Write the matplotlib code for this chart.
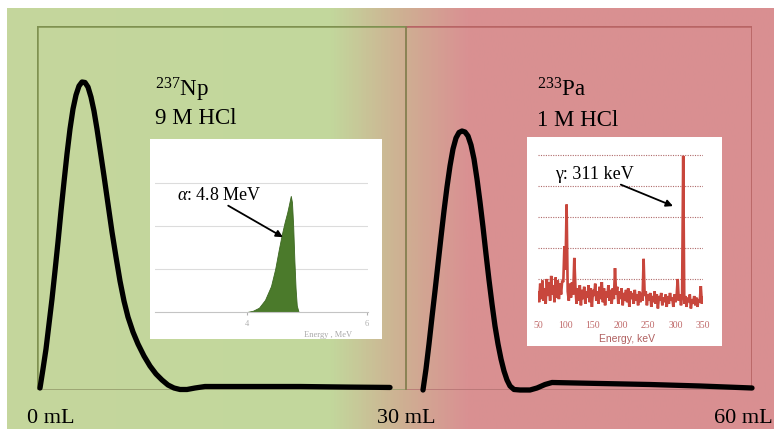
import numpy as np
import matplotlib.pyplot as plt
from matplotlib.colors import LinearSegmentedColormap

plt.rcParams['font.family'] = ['Liberation Serif', 'DejaVu Serif']
plt.rcParams['mathtext.fontset'] = 'custom'
plt.rcParams['mathtext.rm'] = 'Liberation Serif'
plt.rcParams['mathtext.it'] = 'Liberation Serif:italic'

# elution profile, volume in mL vs detector signal (relative)
np_ml = [0.244, 0.488, 0.732, 0.976, 1.220, 1.463, 1.707, 1.951, 2.195, 2.439, 2.683,
         2.927, 3.171, 3.415, 3.659, 3.902, 4.146, 4.390, 4.634, 4.878, 5.122, 5.447,
         5.772, 6.098, 6.423, 6.748, 7.073, 7.398, 7.805, 8.211, 8.699, 9.187, 9.675,
         10.163, 10.650, 11.138, 11.626, 12.195, 12.846, 13.659, 17.3, 21.4, 25.4, 28.7]
np_sig = [0.0055, 0.0577, 0.1126, 0.1813, 0.2500, 0.3269, 0.4066, 0.4918, 0.5714,
          0.6484, 0.7170, 0.7720, 0.8104, 0.8352, 0.8462, 0.8448, 0.8324, 0.8049,
          0.7665, 0.7170, 0.6621, 0.5879, 0.5110, 0.4341, 0.3654, 0.2995, 0.2445,
          0.2005, 0.1593, 0.1264, 0.0934, 0.0659, 0.0440, 0.0275, 0.0137, 0.0055,
          0.0014, 0.0014, 0.0055, 0.0096, 0.0096, 0.0096, 0.0080, 0.0070]
pa_ml = [31.382, 31.626, 31.870, 32.114, 32.358, 32.602, 32.846, 33.089, 33.333, 33.577,
         33.821, 34.065, 34.309, 34.553, 34.797, 35.041, 35.285, 35.528, 35.772, 36.016,
         36.260, 36.504, 36.748, 36.992, 37.236, 37.480, 37.724, 37.967, 38.211, 38.455,
         38.780, 39.268, 40.081, 40.650, 41.301, 41.870, 45.772, 49.837, 53.902, 58.13]
pa_sig = [0.0, 0.0577, 0.1264, 0.2005, 0.2720, 0.3462, 0.4203, 0.4918, 0.5577, 0.6154,
          0.6621, 0.6923, 0.7074, 0.7115, 0.7088, 0.6978, 0.6731, 0.6346, 0.5797, 0.5165,
          0.4478, 0.3736, 0.3022, 0.2363, 0.1758, 0.1264, 0.0852, 0.0522, 0.0275, 0.0110,
          0.0014, 0.0, 0.0, 0.0055, 0.0151, 0.0206, 0.0179, 0.0151, 0.0110, 0.0055]

# alpha spectrum of 237Np
alpha_mev = [4.0, 4.1, 4.2, 4.3, 4.4, 4.47, 4.53, 4.58, 4.63, 4.67, 4.70, 4.73, 4.75,
             4.77, 4.79, 4.81, 4.83, 4.86]
alpha_cts = [0.0, 0.03, 0.1, 0.28, 0.6, 1.0, 1.45, 1.8, 2.1, 2.31, 2.5, 2.7, 2.55,
             2.0, 1.2, 0.55, 0.15, 0.0]

# gamma spectrum of 233Pa, 50-350 keV every 2 keV
gamma_kev = list(range(50, 351, 2))
gamma_cts = [0.55, 0.25, 0.85, 0.35, 0.95, 0.3, 0.7, 0.2, 1.0, 0.45, 0.9, 0.3, 1.1, 0.5,
             0.8, 0.25, 1.05, 0.4, 0.95, 0.35, 0.85, 0.5,
             0.95, 0.9, 2.06, 1.3, 3.4, 0.6, 0.3, 0.85, 0.4, 0.9, 0.5, 1.68, 0.75, 0.2,
             0.7, 0.3, 0.8, 0.15, 0.65, 0.35, 0.75, 0.2, 0.6, 0.4, 0.8, 0.25, 0.7, 0.1,
             0.65, 0.45, 0.85, 0.3, 0.6, 0.2, 0.75, 0.35, 0.9, 0.25, 0.7, 0.15, 0.6, 0.4,
             0.8, 0.3, 0.65, 0.2, 0.7, 0.35,
             1.35, 0.5,
             0.75, 0.2, 0.6, 0.35, 0.7, 0.15, 0.55, 0.3, 0.65, 0.25, 0.7, 0.1, 0.6, 0.35,
             0.55, 0.2, 0.65, 0.3, 0.5, 0.15, 0.6, 0.25, 0.55, 0.3,
             1.65, 0.45,
             0.6, 0.15, 0.5, 0.3, 0.55, 0.1, 0.45, 0.25, 0.6, 0.2, 0.5, 0.05, 0.45, 0.3,
             0.55, 0.15, 0.4, 0.25, 0.5, 0.1, 0.45, 0.2, 0.55, 0.3, 0.4, 0.1, 0.5, 0.25, 0.45,
             1.0, 0.3, 0.5, 0.15, 0.5, 4.97, 0.2,
             0.45, 0.1, 0.4, 0.25, 0.5, 0.05, 0.35, 0.2, 0.45, 0.15, 0.4, 0.1, 0.35, 0.25,
             0.77, 0.2, 0.4]

vol_ticks = [0, 30, 60]
vol_labels = ['0 mL', '30 mL', '60 mL']

W, H = 774, 439
fig = plt.figure(figsize=(W / 100, H / 100), dpi=100)

def box(x0, y0, x1, y1):
    # pixel box (top-left origin) -> figure fraction
    return [x0 / W, 1 - y1 / H, (x1 - x0) / W, (y1 - y0) / H]

# background green -> red gradient
bg = fig.add_axes(box(7, 9, 774, 430))
cmap = LinearSegmentedColormap.from_list('gr', [(0, '#c5d69d'), (0.42, '#c2d89c'),
                                               (0.52, '#cfae92'), (0.60, '#d99192'),
                                               (1, '#d98f91')])
bg.imshow(np.linspace(0, 1, 500)[None, :], aspect='auto', cmap=cmap, extent=[0, 1, 0, 1])
bg.axis('off')

# main chromatogram
ax = fig.add_axes(box(37, 27, 752, 391))
ax.set_facecolor('none')
ax.set_xlim(0, 58.13)
ax.set_ylim(0, 1)
for s in ax.spines.values():
    s.set_visible(False)
ax.set_xticks([])
ax.set_yticks([])
green_edge = '#7f9150'
red_edge = '#b86565'
ax.plot([0, 0], [0, 1], color=green_edge, lw=1.8)
ax.plot([0, 30], [1, 1], color=green_edge, lw=1.8)
ax.plot([30, 58.13], [1, 1], color=red_edge, lw=1.8)
ax.plot([0, 30], [0, 0], color='#93996a', lw=1.1)
ax.plot([30, 58.13], [0, 0], color='#b47272', lw=1.1)
ax.plot([58.13, 58.13], [0, 1], color=red_edge, lw=2.0)
ax.plot([30, 30], [0, 1], color='#8a8254', lw=1.4)

ax.plot(np_ml, np_sig, color='black', lw=3.8, solid_capstyle='round',
        solid_joinstyle='round', clip_on=False)
ax.plot(pa_ml, pa_sig, color='black', lw=3.8, solid_capstyle='round',
        solid_joinstyle='round', clip_on=False)

ax.text(vol_ticks[0] - 0.8, -0.088, vol_labels[0], ha='left', va='baseline', fontsize=16)
ax.text(vol_ticks[1], -0.088, vol_labels[1], ha='center', va='baseline', fontsize=16)
ax.text(vol_ticks[2] - 0.2, -0.088, vol_labels[2], ha='right', va='baseline', fontsize=16)

ax.text(9.6, 0.808, r'$^{237}$Np', fontsize=16.5, va='baseline')
ax.text(9.6, 0.734, '9 M HCl', fontsize=16.5, va='baseline')
ax.text(40.65, 0.808, r'$^{233}$Pa', fontsize=16.5, va='baseline')
ax.text(40.65, 0.728, '1 M HCl', fontsize=16.5, va='baseline')

# white panels behind the insets
for b in [box(150, 140, 382, 340), box(527, 138, 722, 347)]:
    wb = fig.add_axes(b)
    wb.set_facecolor('white')
    wb.set_xticks([])
    wb.set_yticks([])
    for s in wb.spines.values():
        s.set_visible(False)

# alpha inset
a1 = fig.add_axes(box(155, 150, 368, 313))
a1.set_facecolor('none')
a1.set_xlim(2.467, 6.017)
a1.set_ylim(0, 3.79)
for y in [1, 2, 3]:
    a1.axhline(y, color='#dcdcdc', lw=0.8, zorder=0)
a1.fill_between(alpha_mev, alpha_cts, color='#4b7a2b', lw=0.6, edgecolor='#3d6822')
for k, s in a1.spines.items():
    s.set_visible(k == 'bottom')
a1.spines['bottom'].set_color('#c4c4c4')
a1.set_yticks([])
a1.set_xticks([4, 6])
a1.tick_params(axis='x', colors='#b0b0b0', labelsize=6, length=2, pad=3)
a1.text(0.81, -0.135, 'Energy , MeV', transform=a1.transAxes, ha='center', va='center',
        fontsize=6, color='#a8a8a8')
a1.annotate(r'$\alpha$: 4.8 MeV', xy=(4.6, 1.74), xytext=(2.83, 2.63),
            fontsize=13, va='baseline',
            arrowprops=dict(arrowstyle='-|>', color='black', lw=1.3, mutation_scale=10,
                            shrinkA=0, shrinkB=0, relpos=(0.55, 0)))

# gamma inset
a2 = fig.add_axes(box(538, 150, 703, 311))
a2.set_facecolor('none')
a2.set_xlim(50, 350)
a2.set_ylim(0, 5.19)
for y in [1, 2, 3, 4, 5]:
    a2.axhline(y, color='#b06b6b', lw=0.8, ls=(0, (1, 1.2)), zorder=0)
a2.plot(gamma_kev, gamma_cts, color='#c8463c', lw=1.9, solid_joinstyle='miter')
for s in a2.spines.values():
    s.set_visible(False)
a2.set_yticks([])
a2.set_xticks(range(50, 351, 50))
a2.tick_params(axis='x', colors='#c06a6a', labelsize=7, length=0, pad=7)
a2.text(0.54, -0.174, 'Energy, keV', transform=a2.transAxes, ha='center', va='center',
        fontsize=7.5, color='#b06060', family='Liberation Sans')
a2.annotate('\u03b3: 311 keV', xy=(295.5, 3.35), xytext=(80.9, 4.26),
            fontsize=13, va='baseline',
            arrowprops=dict(arrowstyle='-|>', color='black', lw=1.3, mutation_scale=10,
                            shrinkA=0, shrinkB=0, relpos=(0.75, 0)))

fig.savefig('out.png', dpi=100, facecolor='white')
